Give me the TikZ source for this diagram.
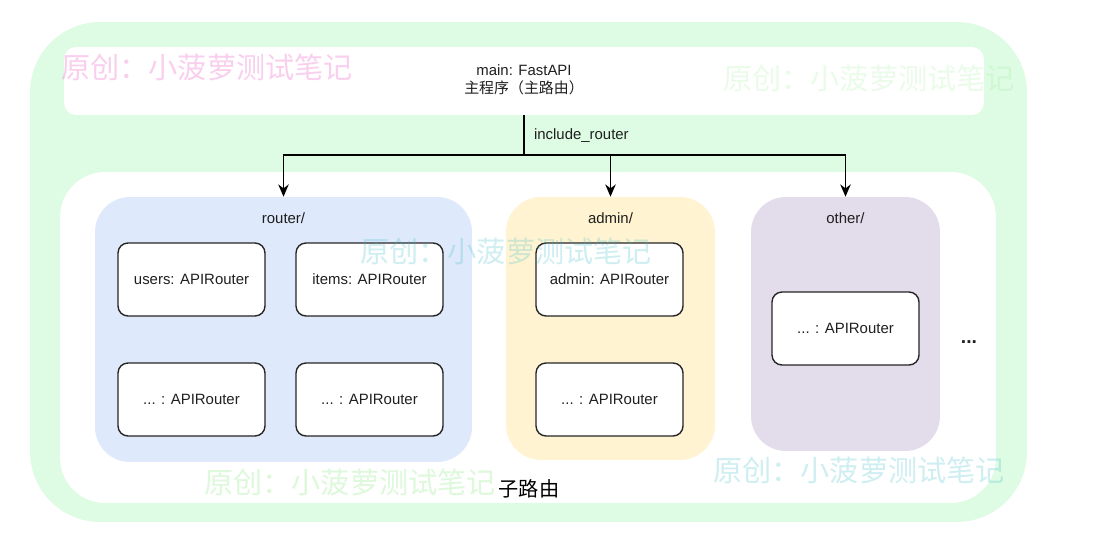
\documentclass[tikz,border=0pt]{standalone}
\usepackage{fontspec}
\setmainfont{Liberation Sans}
\newfontfamily\cjk{Noto Sans CJK SC}
\usetikzlibrary{arrows.meta,positioning}
\definecolor{FrameGreen}{RGB}{222,251,228}
\definecolor{RouterBlue}{RGB}{222,233,251}
\definecolor{AdminYellow}{RGB}{255,243,210}
\definecolor{OtherPurple}{RGB}{227,220,235}
\definecolor{MarkPink}{RGB}{232,40,180}
\definecolor{MarkGreen}{RGB}{120,230,110}
\definecolor{MarkCyan}{RGB}{60,190,200}

\tikzset{
  route/.style={draw=black!85, line width=0.8pt, fill=white, rounded corners=0.2cm,
    minimum width=2.94cm, minimum height=1.46cm, inner sep=0pt},
  group/.style={rounded corners=0.7cm, inner sep=0pt},
  watermark/.style={font=\cjk\fontsize{16.6}{18}\selectfont, text opacity=0.25, inner sep=0pt},
}

\begin{document}
\begin{tikzpicture}[x=0.02cm, y=-0.02cm, font=\fontsize{8.5}{10.5}\selectfont, text=black!88]
  \useasboundingbox (0,0) rectangle (1099,551);

  % frames
  \node[fill=FrameGreen, rounded corners=1.4cm, minimum width=19.94cm, minimum height=10.0cm] (frame) at (528.5,272) {};
  \node[fill=white, rounded corners=0.24cm, minimum width=18.4cm, minimum height=1.36cm] (mainbar) at (524,81) {};
  \node[fill=white, rounded corners=0.9cm, minimum width=18.72cm, minimum height=6.62cm] (sub) at (528,337.5) {};

  \node[align=center] (main) at (524,80) {main: FastAPI\\{\cjk 主程序（主路由）}};

  % route groups
  \node[group, fill=RouterBlue, minimum width=7.54cm, minimum height=5.3cm] (router) at (283.5,329.5) {};
  \node[group, fill=AdminYellow, minimum width=4.18cm, minimum height=5.26cm] (admin) at (610.5,328.5) {};
  \node[group, fill=OtherPurple, minimum width=3.78cm, minimum height=5.08cm] (other) at (845.5,324) {};

  \foreach \n/\x in {router/283.5,admin/610.5,other/845.5} {
    \node (\n lbl) at (\x,218) {\n/};
  }

  \foreach \n/\x/\y/\t in {
    users/191.5/279.5/{users: APIRouter},
    items/369.5/279.5/{items: APIRouter},
    rdotsa/191.5/399.5/{... : APIRouter},
    rdotsb/369.5/399.5/{... : APIRouter},
    adminr/609.5/279.5/{admin: APIRouter},
    adots/609.5/399.5/{... : APIRouter},
    odots/845.5/328.5/{... : APIRouter}
  } {
    \node[route] (\n) at (\x,\y) {\t};
  }

  \node[font=\bfseries\fontsize{11}{12}\selectfont] (more) at (969,342) {...};
  \node[font=\cjk\fontsize{11.5}{13}\selectfont, text=black] (subname) at (529,489) {子路由};

  % include_router connectors
  \coordinate (split) at (524,155);
  \draw[line width=0.8pt] (mainbar.south) -- node[right=2pt] {include\_router} (split);
  \foreach \n in {router,admin,other} {
    \draw[line width=0.8pt, -{Stealth[length=7pt,width=6pt]}] (split) -| (\n.north);
  }

  % watermarks
  \node[watermark, text=MarkPink, text opacity=0.22] (markA) at (207,67) {原创：小菠萝测试笔记};
  \node[watermark, text=MarkGreen, text opacity=0.15] (markB) at (869,78) {原创：小菠萝测试笔记};
  \node[watermark, text=MarkCyan] (markC) at (506,251) {原创：小菠萝测试笔记};
  \node[watermark, text=MarkGreen] (markD) at (350,482) {原创：小菠萝测试笔记};
  \node[watermark, text=MarkCyan] (markE) at (859,470) {原创：小菠萝测试笔记};
\end{tikzpicture}
\end{document}
